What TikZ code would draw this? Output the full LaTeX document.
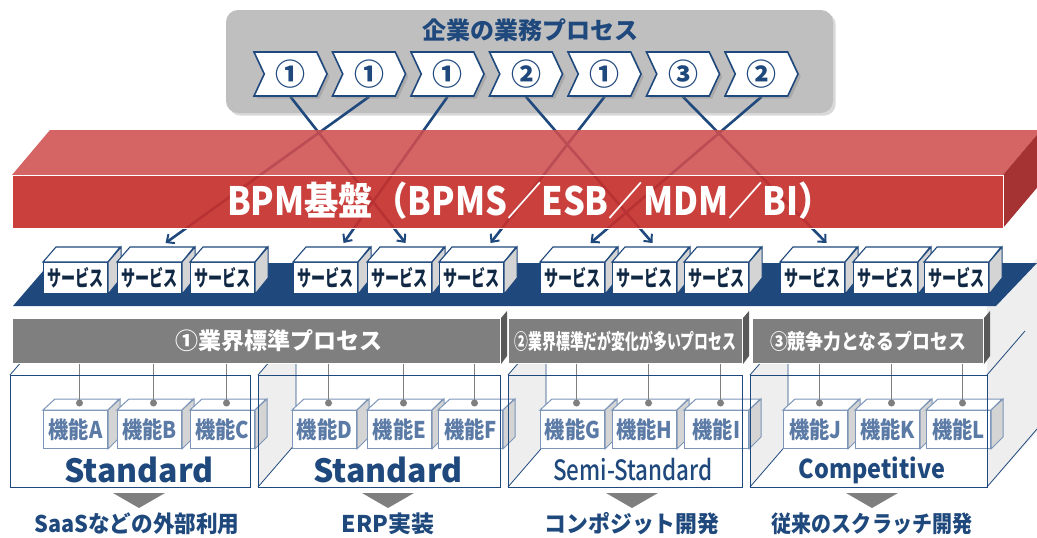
\documentclass[tikz,border=0pt]{standalone}
\usepackage{fontspec}
\setmainfont{Noto Sans CJK JP}
\newfontfamily\medfont{Noto Sans CJK JP Medium}
\usepackage{graphicx}
\usetikzlibrary{arrows.meta}
\usetikzlibrary{backgrounds}
\usetikzlibrary{shapes.symbols}
\usetikzlibrary{shadows}

\definecolor{navy}{HTML}{1F497D}
\definecolor{boxgray}{HTML}{BFBFBF}
\definecolor{bargray}{HTML}{7F7F7F}
\definecolor{bandred}{HTML}{C6302D}
\definecolor{bandtop}{HTML}{CF4E4E}
\definecolor{bandside}{HTML}{A02828}
\definecolor{funcblue}{HTML}{5B7BA6}
\definecolor{sidegray}{HTML}{D4D4D4}
\definecolor{facegray}{HTML}{EEEEEE}

\newcommand\fsz[1]{\fontsize{#1}{#1}\selectfont}
\newcommand\narrow[2]{\scalebox{#1}[1]{#2}}

\tikzset{
  chevron/.style={shape=signal, signal to=east, signal from=west,
    signal pointer angle=130, draw=navy, line width=1.6pt, fill=white,
    minimum width=73pt, minimum height=44pt, inner sep=0pt, text=navy,
    font=\bfseries\fsz{30}, drop shadow={opacity=0.35}},
  svc/.style={draw=navy, line width=1.1pt, fill=white, minimum width=64pt,
    minimum height=31pt, inner sep=0pt, font=\bfseries\fsz{22}, text=navy!55!black},
  func/.style={draw=funcblue!80, line width=1pt, fill=white, minimum width=64pt,
    minimum height=38pt, inner sep=0pt, font=\bfseries\fsz{23}, text=funcblue},
  bar/.style={draw=white, line width=1pt, fill=bargray, minimum height=45pt,
    inner sep=0pt, text=white, font=\bfseries},
  bigbox/.style={draw=navy, line width=1.1pt, minimum height=112pt, inner sep=0pt},
  outlbl/.style={text=navy, font=\bfseries\fsz{23}},
  conn/.style={draw=navy, line width=2.6pt,
    -{Straight Barb[length=6pt,width=11pt,line width=2pt]}},
}

\begin{document}
\begin{tikzpicture}[x=1pt,y=-1pt]
\useasboundingbox (0,0) rectangle (1037,538);
\clip (0,0) rectangle (1037,538);

% business process
\node[text=navy, font=\bfseries\fsz{24}] (title) at (530,30) {企業の業務プロセス};
\foreach \i/\t in {1/①,2/①,3/①,4/②,5/①,6/③,7/②}
  \node[chevron] (c\i) at ({290.5+78.5*(\i-1)},74) {\t};

% BPM band
\fill[bandtop, opacity=0.88] (12,175) -- (50,130) -- (1041,130) -- (1003,175) -- cycle;
\fill[bandside, opacity=0.95] (1003,175) -- (1041,130) -- (1041,183) -- (1003,228) -- cycle;
\node[fill=bandred, fill opacity=0.92, draw=white, minimum width=991pt,
  minimum height=53pt, anchor=north west, inner sep=0pt] (bpm) at (12,175) {};
\node[text=white, font=\bfseries\fsz{39}] (bpmtext) at (530,201) {\narrow{0.88}{BPM基盤（BPMS／ESB／MDM／BI）}};

% lower block
\fill[facegray] (996,306) -- (1037,258) -- (1037,432) -- (987,487) -- (987,306) -- cycle;
\draw[navy, line width=0.8pt] (987,487) -- (1037,429);
\draw[navy, line width=0.8pt] (987,375) -- (1025,331);
\foreach \a in {258,508,750}
  \filldraw[fill=facegray, draw=navy, line width=0.8pt] (\a,375) -- (\a+38,331) -- (\a+38,443) -- (\a,487);
\draw[navy, line width=0.8pt] (10,375) -- (48,331);

\node[bar, minimum width=488pt, anchor=north west] (bar1) at (12,318) {\fsz{23}\hspace*{44pt}①業界標準プロセス};
\node[bar, minimum width=234pt, anchor=north west] (bar2) at (508,318) {\fsz{21}\narrow{0.66}{②業界標準だが変化が多いプロセス}};
\node[bar, minimum width=231pt, anchor=north west] (bar3) at (752,318) {\fsz{21}\narrow{0.85}{③競争力となるプロセス}};
\foreach \k in {1,2,3}
  \fill[bargray!70!black] (bar\k.north east) -- ++(6,-7) -- ++(0,45) -- (bar\k.south east) -- cycle;

% functions
\foreach \i/\x/\l/\b in {1/43/A/1, 2/117/B/1, 3/190/C/1, 4/292/D/1, 5/367/E/1, 6/438/F/1,
    7/540/G/2, 8/612/H/2, 9/684/I/2, 10/783/J/3, 11/855/K/3, 12/926/L/3} {
  \node[func, anchor=north west] (f\i) at (\x,410) {\narrow{0.88}{機能\l}};
  \filldraw[draw=funcblue!80, fill=white, line width=1pt] (f\i.north west) -- ++(12,-11) -- ++(64,0) -- (f\i.north east) -- cycle;
  \filldraw[draw=funcblue!80, fill=sidegray, line width=1pt] (f\i.north east) -- ++(12,-11) -- ++(0,38) -- (f\i.south east) -- cycle;
  \coordinate (d\i) at ([xshift=4pt,yshift=7pt]f\i.north);
  \draw[bargray, line width=1.4pt] (bar\b.south -| d\i) -- (d\i);
  \fill[bargray] (d\i) circle[radius=3.5pt];
}

\node[bigbox, minimum width=240pt, anchor=north west] (b1) at (10,375) {};
\node[bigbox, minimum width=242pt, anchor=north west] (b2) at (258,375) {};
\node[bigbox, minimum width=234pt, anchor=north west] (b3) at (508,375) {};
\node[bigbox, minimum width=237pt, anchor=north west] (b4) at (750,375) {};
\node[text=navy, font=\bfseries\fsz{32}] (std1) at (139,470) {Standard};
\node[text=navy, font=\bfseries\fsz{32}] (std2) at (388,470) {Standard};
\node[text=navy, font=\medfont\fsz{28}] (semi) at (633,470) {\narrow{0.8}{Semi-Standard}};
\node[text=navy, font=\bfseries\fsz{26}] (comp) at (872,470) {\narrow{0.9}{Competitive}};

\foreach \x in {139,388,632,872}
  \fill[bargray] (\x-26,493) -- (\x+26,493) -- (\x,508) -- cycle;
\node[outlbl] (out1) at (137,524) {\narrow{0.94}{SaaSなどの外部利用}};
\node[outlbl] (out2) at (388,524) {ERP実装};
\node[outlbl] (out3) at (632,524) {\narrow{0.95}{コンポジット開発}};
\node[outlbl] (out4) at (872,524) {\narrow{0.87}{従来のスクラッチ開発}};

% services
\fill[navy] (13,306) -- (50,263) -- (1037,263) -- (996,306) -- cycle;
\foreach \i/\x in {1/43,2/117,3/190,4/293,5/367,6/439,7/540,8/612,9/684,10/780,11/853,12/924} {
  \node[svc, anchor=north west] (s\i) at (\x,262) {\narrow{0.64}{サービス}};
  \filldraw[draw=navy, line width=1.1pt, fill=white] (s\i.north west) -- ++(13,-15) -- ++(64,0) -- (s\i.north east) -- cycle;
  \filldraw[draw=navy, line width=1.1pt, fill=sidegray] (s\i.north east) -- ++(13,-15) -- ++(0,31) -- (s\i.south east) -- cycle;
}

\begin{pgfonlayer}{background}
  \fill[boxgray, rounded corners=12pt, drop shadow={opacity=0.3}] (226,10) rectangle (833,113);
  \foreach \c/\s/\dx in {1/5/6, 2/2/16, 3/4/18, 4/8/8, 5/6/19, 6/10/14, 7/7/18}
    \draw[conn] (c\c.south) -- ([xshift=\dx pt,yshift=19pt]s\s.north);
\end{pgfonlayer}
\end{tikzpicture}
\end{document}
